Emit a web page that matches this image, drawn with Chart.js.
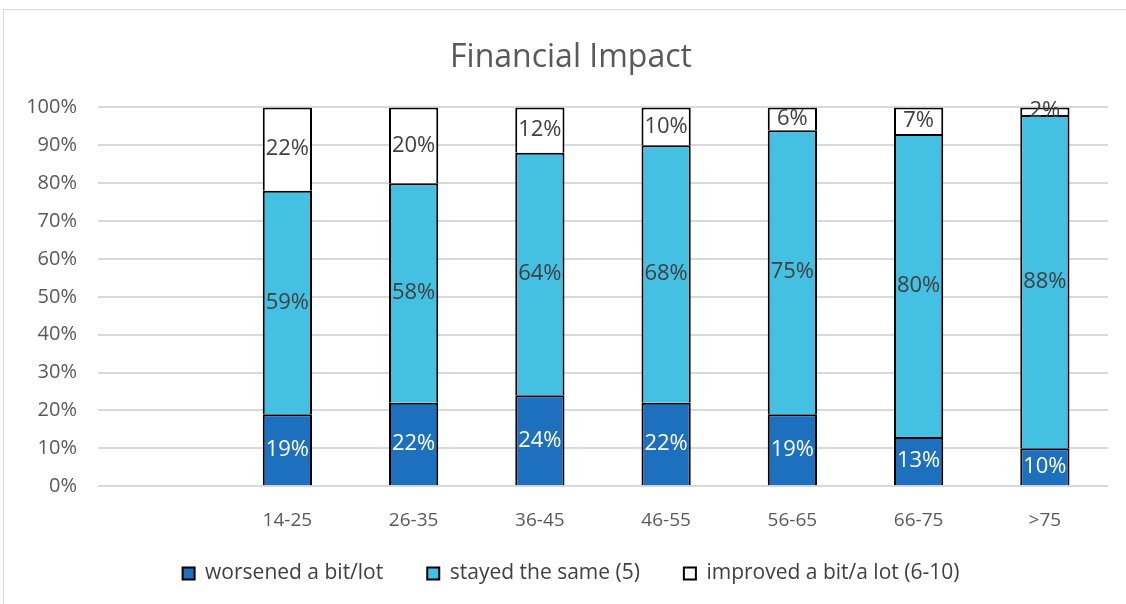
<!DOCTYPE html>
<html>
<head>
<meta charset="utf-8">
<script src="https://cdn.jsdelivr.net/npm/chart.js@4"></script>
<style>
  body { margin: 0; background: #fff; }
  #wrap { position: absolute; left: 0; top: 0; width: 1126px; height: 604px; }
</style>
</head>
<body>
<div id="wrap"><canvas id="myChart" width="1126" height="604"></canvas></div>
<script>
// age groups (first slot is an empty category, as in the original sheet)
const ageGroups = ["", "14-25", "26-35", "36-45", "46-55", "56-65", "66-75", ">75"];
const worsened = [null, 19, 22, 24, 22, 19, 13, 10];
const stayedSame = [null, 59, 58, 64, 68, 75, 80, 88];
const improved = [null, 22, 20, 12, 10, 6, 7, 2];
const yTicks = [0, 10, 20, 30, 40, 50, 60, 70, 80, 90, 100];

const FONT = "'Open Sans', 'Noto Sans', sans-serif";

// light grey frame round the chart area
const frame = {
	id: "frame",
	beforeDraw(chart) {
		const ctx = chart.ctx;
		ctx.save();
		ctx.strokeStyle = "#d9d9d9";
		ctx.lineWidth = 1;
		ctx.strokeRect(3.5, 9.5, 1130, 600);
		ctx.restore();
	},
};

// axes were squeezed in afterFit; widen their boxes again so tick labels aren't clipped
const unclip = {
	id: "unclip",
	afterLayout(chart) {
		chart.scales.y.left = 0;
		chart.scales.x.bottom = chart.height;
	},
};

// value labels in the middle of each segment
const segLabels = {
	id: "segLabels",
	afterDatasetsDraw(chart) {
		const ctx = chart.ctx;
		ctx.save();
		ctx.font = "22px " + FONT;
		ctx.textAlign = "center";
		ctx.textBaseline = "middle";
		chart.data.datasets.forEach((ds, i) => {
			const meta = chart.getDatasetMeta(i);
			meta.data.forEach((bar, j) => {
				const v = ds.data[j];
				if (v == null) return;
				ctx.fillStyle = i === 0 ? "#ffffff" : "#404040";
				ctx.fillText(v + "%", bar.x, (bar.y + bar.base) / 2);
			});
		});
		ctx.restore();
	},
};

const ctx = document.getElementById("myChart").getContext("2d");
new Chart(ctx, {
	type: "bar",
	data: {
		labels: ageGroups,
		datasets: [
			{
				label: "worsened a bit/lot",
				data: worsened,
				backgroundColor: "#1d70be",
				borderColor: "#000000",
				borderWidth: 2,
			},
			{
				label: "stayed the same (5)",
				data: stayedSame,
				backgroundColor: "#44c1e2",
				borderColor: "#000000",
				borderWidth: 2,
			},
			{
				label: "improved a bit/a lot (6-10)",
				data: improved,
				backgroundColor: "#ffffff",
				borderColor: "#000000",
				borderWidth: 2,
			},
		],
	},
	options: {
		responsive: false,
		animation: false,
		layout: { padding: { left: 34, right: 18, top: 0, bottom: 10 } },
		datasets: { bar: { barPercentage: 0.39, categoryPercentage: 1 } },
		plugins: {
			title: {
				display: true,
				text: "Financial Impact",
				color: "#595959",
				font: { family: FONT, size: 32, weight: "normal" },
				padding: { top: 39, bottom: 30 },
			},
			legend: {
				position: "bottom",
				labels: {
					color: "#404040",
					font: { family: FONT, size: 21 },
					boxWidth: 12,
					boxHeight: 12,
					padding: 44,
					useBorderRadius: false,
				},
			},
			tooltip: { enabled: false },
		},
		scales: {
			x: {
				stacked: true,
				grid: { display: false },
				border: { display: false },
				ticks: { color: "#595959", font: { family: FONT, size: 19 }, padding: 15 },
				afterFit(axis) {
					axis.height -= 28;
				},
			},
			y: {
				stacked: true,
				min: 0,
				max: 100,
				afterBuildTicks(axis) {
					axis.ticks = yTicks.map((v) => ({ value: v }));
				},
				afterFit(axis) {
					axis.width = 64;
				},
				grid: { color: "#d9d9d9", lineWidth: 2, drawTicks: false },
				border: { display: false },
				ticks: {
					color: "#595959",
					font: { family: FONT, size: 20 },
					padding: 21,
					callback: (v) => v + "%",
				},
			},
		},
	},
	plugins: [frame, unclip, segLabels],
});
</script>
</body>
</html>
